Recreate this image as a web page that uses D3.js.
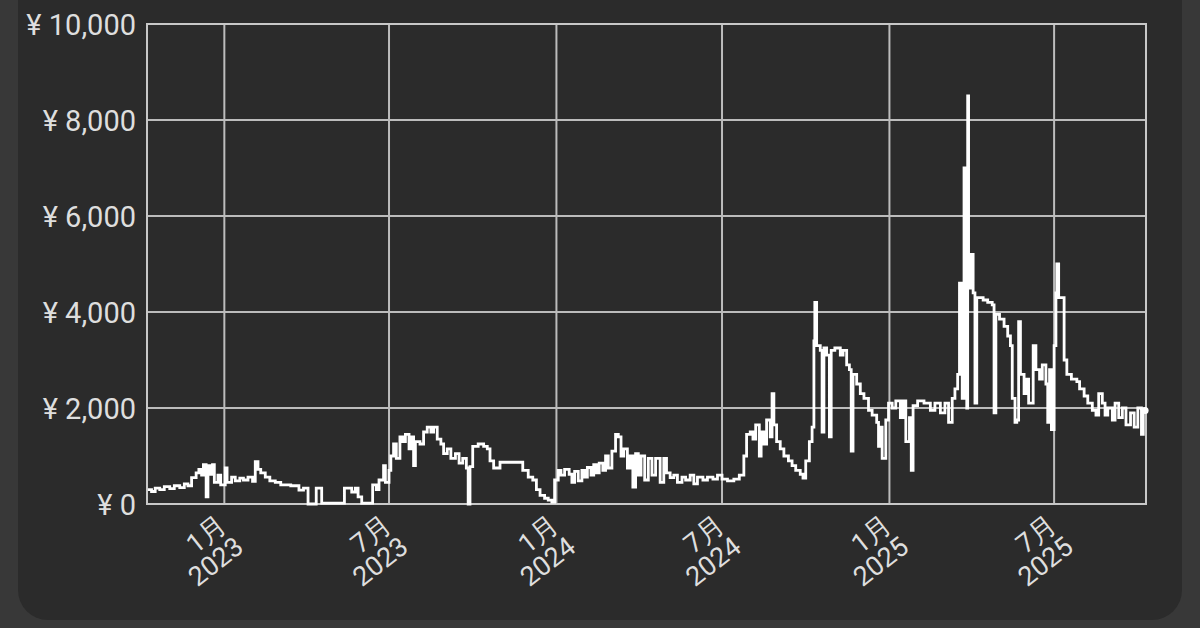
<!DOCTYPE html>
<html>
<head>
<meta charset="utf-8">
<script src="https://cdn.jsdelivr.net/npm/d3@7"></script>
<style>
  html, body { margin: 0; padding: 0; background: #383838; }
  svg { display: block; }
</style>
</head>
<body>
<div id="chart"></div>
<script>
// price history, one entry per change (step chart)
var dates = [
  "2022-10-09","2022-10-13","2022-10-17","2022-10-22","2022-10-27","2022-11-02","2022-11-07","2022-11-13","2022-11-18","2022-11-22",
  "2022-11-26","2022-12-01","2022-12-04","2022-12-07","2022-12-09","2022-12-12","2022-12-14","2022-12-17","2022-12-19","2022-12-21",
  "2022-12-25","2022-12-28","2023-01-02","2023-01-04","2023-01-09","2023-01-13","2023-01-18","2023-01-22","2023-01-27","2023-02-01",
  "2023-02-04","2023-02-07","2023-02-10","2023-02-15","2023-02-20","2023-02-26","2023-03-04","2023-03-15","2023-03-24","2023-03-29",
  "2023-04-03","2023-04-12","2023-04-18","2023-05-13","2023-05-21","2023-05-25","2023-05-28","2023-06-01","2023-06-13","2023-06-17",
  "2023-06-20","2023-06-25","2023-06-27","2023-07-01","2023-07-03","2023-07-06","2023-07-09","2023-07-13","2023-07-16","2023-07-19",
  "2023-07-23","2023-07-26","2023-07-28","2023-07-30","2023-08-04","2023-08-08","2023-08-12","2023-08-16","2023-08-19","2023-08-23",
  "2023-08-27","2023-08-30","2023-09-03","2023-09-07","2023-09-12","2023-09-16","2023-09-20","2023-09-24","2023-09-26","2023-09-28",
  "2023-10-01","2023-10-07","2023-10-13","2023-10-17","2023-10-20","2023-10-24","2023-10-31","2023-11-13","2023-11-25","2023-12-01",
  "2023-12-06","2023-12-10","2023-12-14","2023-12-19","2023-12-23","2023-12-27","2023-12-30","2024-01-03","2024-01-06","2024-01-10",
  "2024-01-15","2024-01-18","2024-01-21","2024-01-25","2024-01-29","2024-02-01","2024-02-04","2024-02-08","2024-02-11","2024-02-14",
  "2024-02-17","2024-02-21","2024-02-24","2024-02-27","2024-03-02","2024-03-06","2024-03-09","2024-03-12","2024-03-15","2024-03-19",
  "2024-03-22","2024-03-25","2024-03-28","2024-03-31","2024-04-03","2024-04-07","2024-04-11","2024-04-15","2024-04-19","2024-04-24",
  "2024-04-28","2024-05-01","2024-05-05","2024-05-09","2024-05-13","2024-05-18","2024-05-22","2024-05-27","2024-05-31","2024-06-04",
  "2024-06-10","2024-06-15","2024-06-21","2024-06-26","2024-07-01","2024-07-07","2024-07-14","2024-07-20","2024-07-25","2024-07-28",
  "2024-08-01","2024-08-04","2024-08-07","2024-08-11","2024-08-13","2024-08-16","2024-08-19","2024-08-23","2024-08-25","2024-08-27",
  "2024-08-30","2024-09-03","2024-09-07","2024-09-12","2024-09-16","2024-09-20","2024-09-25","2024-09-28","2024-10-01","2024-10-05",
  "2024-10-08","2024-10-10","2024-10-11","2024-10-13","2024-10-17","2024-10-19","2024-10-21","2024-10-24","2024-10-27","2024-10-29",
  "2024-11-02","2024-11-08","2024-11-11","2024-11-15","2024-11-18","2024-11-20","2024-11-22","2024-11-26","2024-11-30","2024-12-04",
  "2024-12-09","2024-12-13","2024-12-18","2024-12-20","2024-12-22","2024-12-24","2024-12-28","2024-12-31","2025-01-04","2025-01-08",
  "2025-01-13","2025-01-16","2025-01-19","2025-01-23","2025-01-25","2025-01-27","2025-02-01","2025-02-08","2025-02-15","2025-02-20",
  "2025-02-26","2025-03-03","2025-03-07","2025-03-11","2025-03-14","2025-03-17","2025-03-19","2025-03-22","2025-03-24","2025-03-25",
  "2025-03-27","2025-03-28","2025-03-29","2025-04-01","2025-04-03","2025-04-05","2025-04-07","2025-04-11","2025-04-14","2025-04-19",
  "2025-04-24","2025-04-26","2025-04-28","2025-05-02","2025-05-07","2025-05-11","2025-05-14","2025-05-16","2025-05-19","2025-05-21",
  "2025-05-23","2025-05-25","2025-05-29","2025-05-31","2025-06-03","2025-06-08","2025-06-11","2025-06-15","2025-06-18","2025-06-22",
  "2025-06-24","2025-06-26","2025-06-28","2025-07-01","2025-07-03","2025-07-04","2025-07-06","2025-07-09","2025-07-12","2025-07-15",
  "2025-07-20","2025-07-26","2025-07-29","2025-08-03","2025-08-07","2025-08-12","2025-08-16","2025-08-19","2025-08-23","2025-08-26",
  "2025-08-29","2025-09-03","2025-09-06","2025-09-10","2025-09-14","2025-09-18","2025-09-23","2025-09-27","2025-10-01","2025-10-05",
  "2025-10-07","2025-10-09"
];
var prices = [
  300,260,330,300,360,320,380,340,420,380,
  550,650,720,600,820,150,800,620,820,450,
  600,400,750,450,560,480,540,500,560,470,
  880,720,650,560,480,450,400,380,290,330,
  0,330,20,330,250,330,150,20,400,300,
  500,800,450,700,1000,1250,950,1400,1300,1450,
  1150,1400,800,1300,1250,1500,1600,1500,1600,1350,
  1250,1050,1150,950,1050,850,950,750,0,780,
  1200,1250,1200,1150,900,750,870,870,700,560,
  500,300,180,120,80,40,500,700,600,720,
  620,450,680,480,700,560,760,600,820,650,
  850,700,1000,750,1100,1450,1400,1000,1150,750,
  1000,350,1050,600,1000,500,950,600,950,450,
  950,650,550,600,450,560,500,600,420,560,
  500,560,520,600,520,480,520,600,1000,1450,
  1500,1350,1650,1000,1500,1250,1750,1400,2300,1650,
  1300,1150,1000,900,800,700,620,540,900,1300,
  1600,3400,4200,3300,3200,1500,3250,3100,1400,3200,
  3250,3100,3200,2900,2800,1100,2700,2500,2300,2200,
  1950,1850,1700,1200,1600,950,1750,2100,2000,2150,
  1800,2150,1300,1800,700,2050,2150,2100,1950,2100,
  1900,2100,1700,2200,2400,2700,4600,2200,7000,4600,
  2000,8500,4500,5200,4400,2100,4300,4300,4250,4200,
  4150,1900,3950,3850,3700,3500,3300,2200,1700,1750,
  3800,2700,2300,2600,2100,3300,2800,2600,2900,2500,
  1700,2800,1550,3300,4400,5000,4300,4300,3000,2700,
  2600,2550,2400,2250,2100,1950,1850,2300,2100,1850,
  2000,1750,2100,1800,2000,1650,1900,1600,2000,1450,
  1950,1950
];

var yTicks = [0, 2000, 4000, 6000, 8000, 10000];
var xTicks = ["2023-01-01","2023-07-01","2024-01-01","2024-07-01","2025-01-01","2025-07-01"];
var xMonths = ["1月","7月","1月","7月","1月","7月"];
var xYears = ["2023","2023","2024","2024","2025","2025"];

var W = 1200, H = 628;
var margin = {top: 24, right: 54, bottom: 124, left: 147};
var parse = d3.timeParse("%Y-%m-%d");

var data = dates.map(function(d, i){ return {date: parse(d), value: prices[i]}; });

var svg = d3.select("#chart").append("svg")
    .attr("width", W)
    .attr("height", H);

// card
svg.append("rect")
    .attr("x", 18).attr("y", -40)
    .attr("width", 1164).attr("height", 660)
    .attr("rx", 30).attr("ry", 30)
    .attr("fill", "#2b2b2b");

var x = d3.scaleTime()
    .domain([parse("2022-10-08"), parse("2025-10-10")])
    .range([margin.left, W - margin.right]);

var y = d3.scaleLinear()
    .domain([0, 10000])
    .range([H - margin.bottom, margin.top]);

var gridColor = "#bcbcbc";

// horizontal grid
svg.append("g").selectAll("line")
    .data(yTicks)
    .enter().append("line")
    .attr("x1", x.range()[0]).attr("x2", x.range()[1])
    .attr("y1", function(d){ return y(d); })
    .attr("y2", function(d){ return y(d); })
    .attr("stroke", gridColor)
    .attr("stroke-width", 2);

// vertical grid
svg.append("g").selectAll("line")
    .data(xTicks)
    .enter().append("line")
    .attr("x1", function(d){ return x(parse(d)); })
    .attr("x2", function(d){ return x(parse(d)); })
    .attr("y1", y.range()[0]).attr("y2", y.range()[1])
    .attr("stroke", gridColor)
    .attr("stroke-width", 2);

// frame
svg.append("rect")
    .attr("x", x.range()[0]).attr("y", y.range()[1])
    .attr("width", x.range()[1] - x.range()[0])
    .attr("height", y.range()[0] - y.range()[1])
    .attr("fill", "none")
    .attr("stroke", "#c8c8c8")
    .attr("stroke-width", 2);

var fmt = d3.format(",");

// y labels
svg.append("g").selectAll("text")
    .data(yTicks)
    .enter().append("text")
    .attr("x", 136)
    .attr("y", function(d){ return y(d) + 3; })
    .attr("text-anchor", "end")
    .attr("dominant-baseline", "middle")
    .style("font", "29px Roboto, sans-serif")
    .attr("fill", "#dedede")
    .text(function(d){ return "¥ " + fmt(d); });

// x labels, two lines, rotated
var xl = svg.append("g").selectAll("g")
    .data(xTicks)
    .enter().append("g")
    .attr("transform", function(d){ return "translate(" + (x(parse(d)) - 8) + "," + 513 + ") rotate(-38)"; });

xl.append("text")
    .attr("x", 0).attr("y", 20)
    .attr("text-anchor", "end")
    .style("font", "27px Roboto, sans-serif")
    .attr("fill", "#dedede")
    .text(function(d, i){ return xMonths[i]; });

xl.append("text")
    .attr("x", 0).attr("y", 47)
    .attr("text-anchor", "end")
    .style("font", "27px Roboto, sans-serif")
    .attr("fill", "#dedede")
    .text(function(d, i){ return xYears[i]; });

// price line
var line = d3.line()
    .curve(d3.curveStepAfter)
    .x(function(d){ return x(d.date); })
    .y(function(d){ return y(d.value); });

svg.append("path")
    .datum(data)
    .attr("fill", "none")
    .attr("stroke", "#ffffff")
    .attr("stroke-width", 2.8)
    .attr("d", line);

var last = data[data.length - 1];
svg.append("circle")
    .attr("cx", x(last.date))
    .attr("cy", y(last.value))
    .attr("r", 3.5)
    .attr("fill", "#ffffff");
</script>
</body>
</html>
